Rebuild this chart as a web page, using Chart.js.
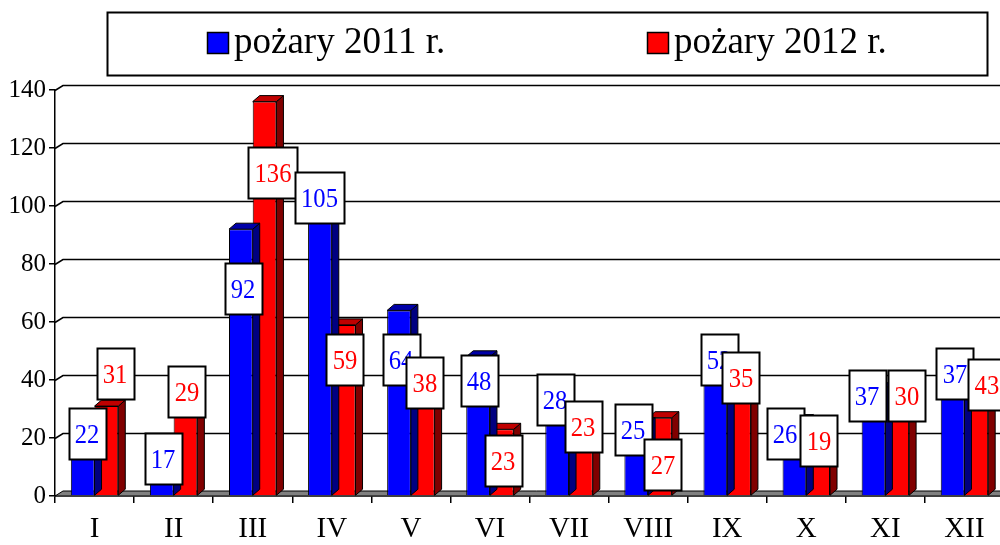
<!DOCTYPE html>
<html><head><meta charset="utf-8">
<script src="https://cdn.jsdelivr.net/npm/chart.js@4/dist/chart.umd.min.js"></script>
<style>html,body{margin:0;padding:0;background:#fff;overflow:hidden;width:1000px;height:545px}canvas{display:block}</style>
</head><body><canvas id="c" width="1010" height="545"></canvas>
<script>
// ---- data ----
const months = ['I','II','III','IV','V','VI','VII','VIII','IX','X','XI','XII'];
const fires2011 = [22, 17, 92, 105, 64, 48, 28, 25, 52, 26, 37, 37];
const fires2012 = [31, 29, 136, 59, 38, 23, 23, 27, 35, 19, 30, 43];
const seriesNames = ['pożary 2011 r.', 'pożary 2012 r.'];
const yMin = 0, yMax = 140, yStep = 20;

// ---- label box placement (value units for centre, px shift in x) ----
const labelAt2011 = [21.7, 12.8, 71.4, 102.9, 47.2, 39.7, 33.4, 23.1, 47.2, 21.7, 34.8, 42.4];
const labelAt2012 = [42.1, 35.9, 111.6, 47.2, 39.3, 12.4, 24.1, 11.0, 40.7, 19.1, 34.5, 38.6];
const labelDx2011 = [4.4, 1.3, 2.2, -0.4, 2.0, 1.0, -2.1, -3.2, 3.7, -9.4, -6.5, 2.4];
const labelDx2012 = [8.6, 1.5, 8.4, 1.3, 2.2, 1.2, 2.1, 3.0, 1.9, 0.8, 9.7, 10.6];

const FRONT = ['#0000FF', '#FF0000'];
const TOP = ['#0000A8', '#C00000'];
const SIDE = ['#000080', '#800000'];
const DX = 7, DY = 6;       // bar depth
const GDX = 8, GDY = 5;     // back wall offset
const SERIF = "'Liberation Serif', 'Times New Roman', serif";

const threeD = {
  id: 'threeD',
  beforeDatasetsDraw(chart) {
    const ctx = chart.ctx, ys = chart.scales.y, a = chart.chartArea;
    ctx.save();
    ctx.strokeStyle = '#000';
    ctx.lineWidth = 1.5;
    for (let v = yMin + yStep; v <= yMax; v += yStep) {
      const y = Math.round(ys.getPixelForValue(v)) + 0.5;
      ctx.beginPath();
      ctx.moveTo(a.left, y);
      ctx.lineTo(a.left + GDX, y - GDY);
      ctx.lineTo(chart.width, y - GDY);
      ctx.stroke();
    }
    // floor
    const y0 = ys.getPixelForValue(0);
    ctx.beginPath();
    ctx.moveTo(a.left, y0);
    ctx.lineTo(a.left + GDX, y0 - GDY);
    ctx.lineTo(chart.width, y0 - GDY);
    ctx.lineTo(chart.width, y0);
    ctx.closePath();
    ctx.fillStyle = '#808080';
    ctx.fill();
    ctx.lineWidth = 1;
    ctx.stroke();
    ctx.restore();
  },
  afterDatasetDraw(chart, args) {
    const ctx = chart.ctx, i = args.index;
    ctx.save();
    ctx.strokeStyle = '#000';
    ctx.lineWidth = 1;
    args.meta.data.forEach(el => {
      const p = el.getProps(['x', 'y', 'base', 'width'], true);
      const l = p.x - p.width / 2, r = p.x + p.width / 2;
      ctx.beginPath();
      ctx.moveTo(r, p.y); ctx.lineTo(r + DX, p.y - DY);
      ctx.lineTo(r + DX, p.base - DY); ctx.lineTo(r, p.base); ctx.closePath();
      ctx.fillStyle = SIDE[i]; ctx.fill(); ctx.stroke();
      ctx.beginPath();
      ctx.moveTo(l, p.y); ctx.lineTo(l + DX, p.y - DY);
      ctx.lineTo(r + DX, p.y - DY); ctx.lineTo(r, p.y); ctx.closePath();
      ctx.fillStyle = TOP[i]; ctx.fill(); ctx.stroke();
    });
    ctx.restore();
  },
  afterDatasetsDraw(chart) {
    const ctx = chart.ctx, ys = chart.scales.y;
    const pos = [labelAt2011, labelAt2012], dxs = [labelDx2011, labelDx2012];
    ctx.save();
    const SX = 0.88;
    ctx.font = "28px " + SERIF;
    for (let k = 0; k < months.length; k++) {
      for (let d = 0; d < 2; d++) {
        const el = chart.getDatasetMeta(d).data[k];
        const txt = String(chart.data.datasets[d].data[k]);
        const cx = el.x + dxs[d][k];
        const cy = ys.getPixelForValue(pos[d][k]);
        const tw = ctx.measureText(txt).width * SX;
        const w = Math.round(tw + 12), h = 51;
        const bx = Math.round(cx - w / 2) + 0.5, by = Math.round(cy - h / 2) + 0.5;
        ctx.fillStyle = '#fff';
        ctx.fillRect(bx, by, w, h);
        ctx.lineWidth = 2;
        ctx.strokeStyle = '#000';
        ctx.strokeRect(bx, by, w, h);
        ctx.save();
        ctx.translate(cx, cy + 9.5);
        ctx.scale(SX, 1);
        ctx.fillStyle = FRONT[d];
        ctx.textAlign = 'center';
        ctx.textBaseline = 'alphabetic';
        ctx.fillText(txt, 0, 0);
        ctx.restore();
      }
    }
    // legend
    ctx.lineWidth = 2;
    ctx.strokeStyle = '#000';
    ctx.strokeRect(107.5, 12.5, 880, 63);
    const lx = [207, 647];
    ctx.font = "37px " + SERIF;
    ctx.textAlign = 'left';
    ctx.textBaseline = 'alphabetic';
    for (let d = 0; d < 2; d++) {
      ctx.fillStyle = FRONT[d];
      ctx.fillRect(lx[d] + 0.5, 32.5, 21, 21);
      ctx.lineWidth = 1.5;
      ctx.strokeRect(lx[d] + 0.5, 32.5, 21, 21);
      ctx.fillStyle = '#000';
      ctx.fillText(chart.data.datasets[d].label, lx[d] + 27, 53);
    }
    ctx.restore();
  }
};

new Chart(document.getElementById('c'), {
  type: 'bar',
  data: {
    labels: months,
    datasets: [
      { label: seriesNames[0], data: fires2011, backgroundColor: FRONT[0], borderColor: '#000', borderWidth: 1 },
      { label: seriesNames[1], data: fires2012, backgroundColor: FRONT[1], borderColor: '#000', borderWidth: 1 }
    ]
  },
  options: {
    responsive: false,
    animation: false,
    devicePixelRatio: 1,
    categoryPercentage: 0.6,
    barPercentage: 1.0,
    layout: { padding: { top: 90, right: 6, left: 0, bottom: 0 } },
    plugins: { legend: { display: false }, tooltip: { enabled: false } },
    scales: {
      x: {
        afterFit(s) { s.height = 49; },
        grid: { drawOnChartArea: false, drawTicks: true, tickLength: 7, color: '#000', lineWidth: 1.5, offset: true },
        border: { display: true, color: '#000', width: 1.5 },
        ticks: { color: '#000', font: { family: SERIF, size: 29 }, padding: 9, maxRotation: 0, autoSkip: false }
      },
      y: {
        min: yMin, max: yMax,
        afterFit(s) { s.width = 55; },
        grid: { drawOnChartArea: false, drawTicks: true, tickLength: 6, color: '#000', lineWidth: 1.5 },
        border: { display: true, color: '#000', width: 1.5 },
        ticks: { stepSize: yStep, color: '#000', font: { family: SERIF, size: 25 }, padding: 3 }
      }
    }
  },
  plugins: [threeD]
});
</script>
</body></html>
